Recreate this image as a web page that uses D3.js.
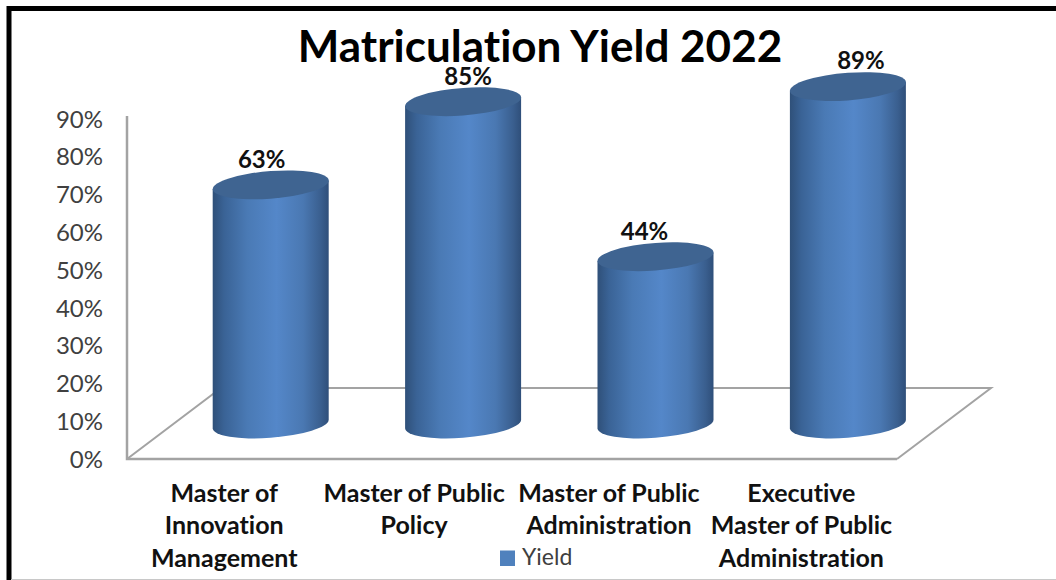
<!DOCTYPE html>
<html>
    <head>
        <meta charset="UTF-8" />
        <script src="https://cdn.jsdelivr.net/npm/d3@7"></script>
        <title>Matriculation Yield 2022</title>
        <style>
            html, body { margin: 0; padding: 0; background: white; }
            svg { display: block; font-family: Lato, "Open Sans", sans-serif; font-variant-ligatures: none; }
        </style>
    </head>
    <body>
        <div id="chart"></div>
        <script>
const categories = [
    ["Master of", "Innovation", "Management"],
    ["Master of Public", "Policy"],
    ["Master of Public", "Administration"],
    ["Executive", "Master of Public", "Administration"]
];
const yieldValues = [63, 85, 44, 89];
const yTicks = [0, 10, 20, 30, 40, 50, 60, 70, 80, 90];
const seriesName = "Yield";
const chartTitle = "Matriculation Yield 2022";
// labels were dragged by hand in the original, so they sit off centre
const labelNudge = [-9, 5, -11, 13];
const catNudge = [0, -2.5, 0, 0];

const w = 1056, h = 580;
const depthX = 94, depthY = 71;
const rx = 58, ry = 13.8, tilt = -0.074;

const svg = d3.select("#chart").append("svg").attr("width", w).attr("height", h);

const yScale = d3.scaleLinear().domain([0, 90]).range([459.7, 119.5]);
const xScale = d3.scaleBand().domain(d3.range(categories.length)).range([128, 897.6]);
const cx = i => xScale(i) + xScale.bandwidth() / 2 + 46.5;
const cy = v => yScale(v) - 36.7;

// frame
svg.append("rect").attr("x", 9).attr("y", 8.5).attr("width", w + 20).attr("height", h + 20)
    .attr("fill", "white").attr("stroke", "black").attr("stroke-width", 5);
svg.append("line").attr("x1", 11).attr("x2", w).attr("y1", 579.5).attr("y2", 579.5)
    .attr("stroke", "#c8c8c8").attr("stroke-width", 1);

const grad = svg.append("defs").append("linearGradient").attr("id", "cyl");
[[0, "#2f5079"], [0.1, "#3a6396"], [0.3, "#4a7ab5"], [0.55, "#5487c9"], [0.78, "#4a78b2"], [0.93, "#3a5f8f"], [1, "#2f4f7a"]]
    .forEach(s => grad.append("stop").attr("offset", s[0]).attr("stop-color", s[1]));

// wall and floor
const floorBase = 459;
const wall = svg.append("g").attr("fill", "none").attr("stroke", "#a3a3a3");
wall.append("path").attr("stroke-width", 2.5)
    .attr("d", d3.line()([[127, 116], [127, floorBase], [897, floorBase]]));
wall.append("path").attr("stroke-width", 2)
    .attr("d", d3.line()([[127, floorBase], [127 + depthX, floorBase - depthY], [897 + depthX, floorBase - depthY], [897, floorBase]]));

// cylinders
const bars = svg.selectAll("g.bar").data(yieldValues).enter().append("g")
    .attr("class", "bar")
    .attr("transform", (d, i) => `matrix(1,${tilt},0,1,${cx(i)},${cy(d)})`);
bars.append("path")
    .attr("fill", "url(#cyl)")
    .attr("d", d => {
        const len = cy(0) + 1 - cy(d);
        return `M${-rx},0 V${len} A${rx},${ry} 0 0 0 ${rx},${len} V0 Z`;
    });
bars.append("ellipse").attr("rx", rx).attr("ry", ry).attr("fill", "#3f6491");

// data labels
svg.selectAll("text.value").data(yieldValues).enter().append("text")
    .attr("class", "value")
    .attr("x", (d, i) => cx(i) + labelNudge[i])
    .attr("y", d => cy(d) - 25.5)
    .attr("dy", "0.35em")
    .attr("text-anchor", "middle")
    .attr("font-size", 24).attr("font-weight", 700).attr("fill", "#111")
    .text(d => d + "%");

// y axis
const yAxis = d3.axisLeft(yScale).tickValues(yTicks).tickSize(0).tickPadding(0).tickFormat(d => d + "%");
const yG = svg.append("g").attr("transform", "translate(103, 0)").call(yAxis);
yG.select(".domain").remove();
yG.selectAll("text").attr("font-family", "Lato").attr("font-size", 24).attr("fill", "#404040");

// category labels
const cats = svg.selectAll("text.cat").data(categories).enter().append("text")
    .attr("class", "cat")
    .attr("text-anchor", "middle")
    .attr("font-size", 25).attr("font-weight", 700).attr("fill", "#111");
cats.selectAll("tspan").data(d => d).enter().append("tspan")
    .attr("x", function () {
        const i = categories.indexOf(d3.select(this.parentNode).datum());
        return xScale(i) + xScale.bandwidth() / 2 + catNudge[i];
    })
    .attr("y", (d, i) => 501.5 + i * 32.6)
    .text(d => d);

// title
svg.append("text").attr("x", 540).attr("y", 62).attr("text-anchor", "middle")
    .attr("font-size", 44).attr("font-weight", 700).attr("fill", "black")
    .text(chartTitle);

// legend
svg.append("rect").attr("x", 500).attr("y", 550.5).attr("width", 15).attr("height", 15.5).attr("fill", "#4f81bd");
svg.append("text").attr("x", 522).attr("y", 565).attr("font-size", 23).attr("fill", "#404040").text(seriesName);
        </script>
    </body>
</html>
